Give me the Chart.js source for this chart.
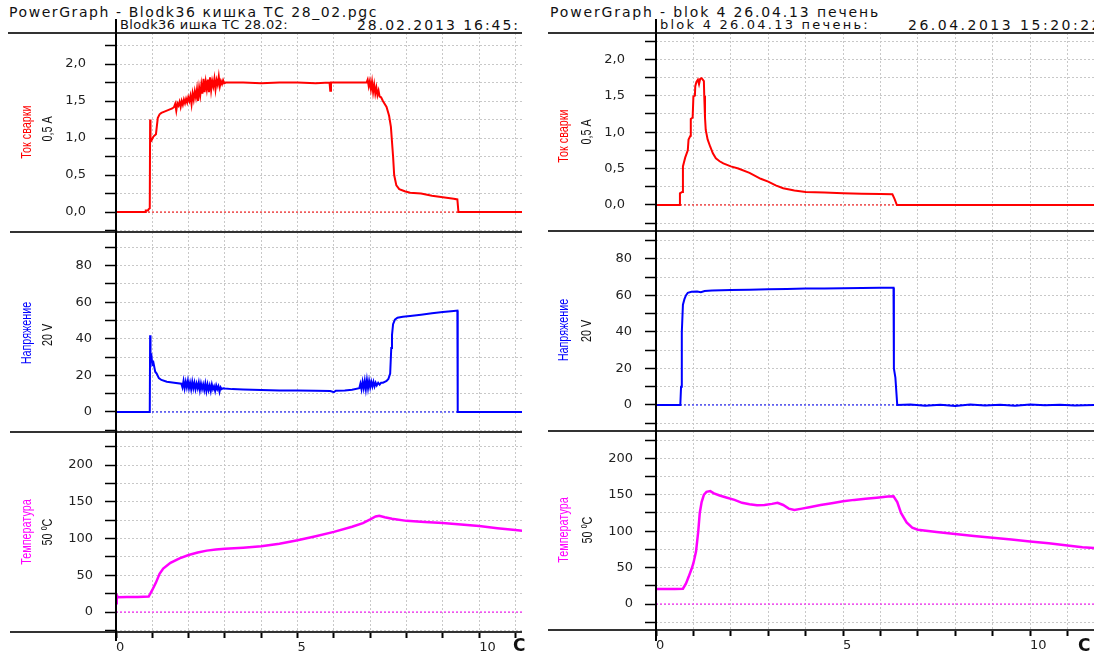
<!DOCTYPE html>
<html><head><meta charset="utf-8">
<script src="https://cdn.jsdelivr.net/npm/chart.js@4"></script>
<style>
html,body{margin:0;padding:0;background:#fff;}
#root{position:relative;width:1094px;height:652px;overflow:hidden;background:#fff;font-family:"DejaVu Sans",sans-serif;}
canvas{position:absolute;}
.t{position:absolute;white-space:nowrap;color:#111;font-size:13px;line-height:14px;z-index:3;}
.hl{position:absolute;height:2px;background:#333;z-index:4;}
.vl{position:absolute;width:2px;background:#000;z-index:4;}
.yl{position:absolute;white-space:nowrap;font-family:"Liberation Sans",sans-serif;font-size:15px;line-height:15px;z-index:3;}
.unit{position:absolute;font-weight:bold;font-size:17px;line-height:17px;color:#111;z-index:3;}
</style></head><body><div id="root"></div>
<script>
// ---------- data ----------
const leftCurrentT = [0,0.80,0.82,0.88,0.90,0.93,0.94,0.95,0.98,1.03,1.10,1.15,1.20,1.25,1.35,1.45,1.55,
  1.60,1.63,1.66,1.69,1.72,1.75,1.78,1.81,1.84,1.87,1.90,1.93,1.96,1.99,2.02,2.05,2.08,2.11,2.14,2.17,2.20,2.23,2.26,2.29,2.32,2.35,2.38,2.41,2.44,2.47,2.50,2.53,2.56,2.59,2.62,2.65,2.68,2.71,2.74,2.77,2.80,2.83,2.86,2.89,2.92,2.95,2.98,3.02,
  3.50,4.00,4.50,5.00,5.50,5.88,5.90,5.92,6.50,
  6.90,6.93,6.96,6.99,7.02,7.05,7.08,7.11,7.14,7.17,7.20,7.23,7.26,7.30,7.35,7.45,7.52,7.57,7.60,7.63,7.66,7.72,7.80,7.95,8.10,8.40,8.70,9.00,9.30,9.40,9.43,11.2];
const leftCurrentA = [0,0,0.02,0.02,0.04,0.05,1.25,1.00,0.97,1.02,1.05,1.27,1.32,1.34,1.36,1.38,1.40,
  1.42,1.46,1.37,1.47,1.44,1.49,1.42,1.50,1.45,1.52,1.47,1.53,1.48,1.55,1.50,1.57,1.46,1.60,1.52,1.63,1.55,1.66,1.50,1.68,1.58,1.72,1.60,1.80,1.62,1.76,1.66,1.79,1.62,1.82,1.65,1.77,1.70,1.80,1.66,1.78,1.72,1.83,1.70,1.77,1.73,1.78,1.74,1.75,
  1.75,1.74,1.75,1.75,1.74,1.75,1.64,1.75,1.75,
  1.75,1.79,1.70,1.77,1.66,1.76,1.62,1.72,1.60,1.68,1.58,1.64,1.56,1.55,1.50,1.42,1.30,1.15,0.95,0.75,0.50,0.36,0.31,0.28,0.26,0.25,0.22,0.20,0.18,0.17,0,0];

const leftVoltageT = [0,0.93,0.94,0.95,0.97,1.00,1.03,1.08,1.12,1.18,1.25,1.40,1.60,
  1.80,1.83,1.86,1.89,1.92,1.95,1.98,2.01,2.04,2.07,2.10,2.13,2.16,2.19,2.22,2.25,2.28,2.31,2.34,2.37,2.40,2.43,2.46,2.49,2.52,2.55,2.58,2.61,2.64,2.67,2.70,2.73,2.76,2.79,2.82,2.85,2.88,2.91,2.95,3.00,
  3.20,3.50,4.00,4.50,5.00,5.50,5.90,6.00,6.05,6.30,6.50,
  6.70,6.73,6.76,6.79,6.82,6.85,6.88,6.91,6.94,6.97,7.00,7.03,7.06,7.09,7.12,7.15,7.18,7.22,7.26,7.30,7.35,7.40,7.45,7.50,7.55,7.58,7.60,7.63,7.68,7.75,7.90,8.10,8.40,8.70,9.00,9.30,9.40,9.41,11.2];
const leftVoltageV = [0,0,42,27,32,26,27,22,21,18.5,17.5,16.5,16,
  15.5,13.5,17,13,16.5,13.5,17,13,16,12.5,16.5,13,16,12.5,15.5,13,16,12,15.5,12.5,15,12,15.5,11.5,15,12,14.5,11.5,15,12.5,14,11.5,14.5,12.5,14,11,13.5,12.5,13,12.8,
  12.5,12.3,12,11.8,11.7,11.6,11.5,10.8,11.6,11.8,12.2,
  13,15.5,12.5,16.5,13,17,12.5,17.5,13,17,13.5,16.5,14,16.5,14,16,14.5,16,15,16,16,16.5,17,18,21,35,42,48,50.5,51.5,52,52.5,53.2,54,54.6,55.2,55.4,0,0];

const leftTempT = [0,0.02,0.05,0.30,0.60,0.90,1.00,1.10,1.20,1.30,1.50,1.75,2.00,2.25,2.50,2.75,3.00,3.50,4.00,4.50,5.00,5.50,6.00,6.50,6.80,7.00,7.15,7.25,7.40,7.60,8.00,8.50,9.00,9.50,10.0,10.5,11.0,11.2];
const leftTempC = [12,23,20,20.5,20.5,21,30,40,52,59,67,73,77.5,81,83.5,85,86,87.5,89.5,93,97.5,103,109,116,121,126,130,131,129,127,124,122.5,121,119,117,114,111.5,110.5];

const rightCurrentT = [0,0.63,0.64,0.70,0.72,0.78,0.85,0.87,0.92,0.93,0.98,1.00,1.04,1.05,1.08,1.12,1.15,1.18,1.22,1.25,1.28,1.29,1.31,1.33,1.38,1.45,1.52,1.60,1.70,1.80,2.00,2.20,2.50,2.80,3.00,3.20,3.40,3.70,4.00,4.50,5.00,5.50,6.00,6.32,6.38,6.44,11.71];
const rightCurrentA = [0,0,0.16,0.18,0.53,0.65,0.75,0.90,0.95,1.18,1.20,1.49,1.50,1.63,1.69,1.72,1.66,1.73,1.74,1.72,1.70,1.50,1.20,1.03,0.90,0.80,0.71,0.64,0.60,0.57,0.53,0.50,0.44,0.36,0.32,0.27,0.23,0.20,0.18,0.17,0.16,0.155,0.15,0.146,0.08,0,0];

const rightVoltageT = [0,0.65,0.67,0.69,0.72,0.76,0.80,0.85,0.95,1.10,1.20,1.30,1.50,2.00,2.50,3.00,3.50,4.00,4.50,5.00,5.50,6.00,6.35,6.36,6.40,6.45,6.80,7.20,7.60,8.00,8.40,8.80,9.20,9.60,10.0,10.4,10.8,11.2,11.71];
const rightVoltageV = [0,0,10,40,55,58,60,61.5,62,62.2,61.8,62.5,62.7,63,63.2,63.4,63.6,63.8,63.9,64,64.1,64.2,64.2,20,15,0,0.3,-0.4,0.2,-0.5,0.3,-0.3,0.2,-0.4,0.3,-0.2,0.2,-0.3,0];

const rightTempT = [0,0.50,0.72,0.80,0.87,0.95,1.00,1.07,1.13,1.17,1.22,1.28,1.35,1.45,1.55,1.70,1.90,2.10,2.30,2.50,2.70,2.90,3.10,3.25,3.40,3.55,3.70,3.90,4.10,4.40,4.70,5.00,5.30,5.60,5.90,6.20,6.35,6.45,6.55,6.70,6.85,7.00,7.50,8.00,8.50,9.00,9.50,10.0,10.5,11.0,11.4,11.71];
const rightTempC = [20.5,20.5,21,28,37,48,56,72,100,125,140,150,154,155,152,149,146,143,139,137,135.5,136,137.5,139,136,131,129,131,133,136,138.5,141,143,144.5,146,147.5,148,140,125,112,105,102,99,96,93.5,91,88.5,86,83.5,80.5,78,77];

// ---------- tick values and labels ----------
const timeTicks = [0,1,2,3,4,5,6,7,8,9,10,11];
const timeLabels = ['0','','','','','5','','','','','10',''];
const currentTicks = [-0.25,0,0.25,0.5,0.75,1,1.25,1.5,1.75,2,2.25];
const currentLabels = ['','0,0','','0,5','','1,0','','1,5','','2,0',''];
const voltageTicks = [-10,0,10,20,30,40,50,60,70,80,90];
const voltageLabels = ['','0','','20','','40','','60','','80',''];
const tempTicks = [-25,0,25,50,75,100,125,150,175,200,225];
const tempLabels = ['','0','','50','','100','','150','','200',''];

// ---------- layout ----------
const root = document.getElementById('root');
function lookup(vals, labs, v){ for(let i=0;i<vals.length;i++){ if(Math.abs(vals[i]-v)<1e-9) return labs[i]; } return ''; }

function makePlot(p){
  const cv = document.createElement('canvas');
  const h = p.h + (p.axisH||0);
  cv.width = p.w; cv.height = h;
  cv.style.left = p.left+'px'; cv.style.top = p.top+'px';
  cv.style.width = p.w+'px'; cv.style.height = h+'px';
  root.appendChild(cv);
  const bottom = !!p.axisH;
  new Chart(cv.getContext('2d'), {
    type:'line',
    data:{datasets:[
      {data:p.xs.map((x,i)=>({x:x,y:p.ys[i]})), borderColor:p.color, borderWidth:p.lw, pointRadius:0, tension:0, fill:false},
      {data:[{x:0,y:0},{x:p.xMax,y:0}], borderColor:p.color, borderWidth:1, borderDash:[2,2], pointRadius:0, fill:false}
    ]},
    options:{
      responsive:false, animation:false, devicePixelRatio:1, events:[],
      layout:{padding:0},
      plugins:{legend:{display:false}, tooltip:{enabled:false}},
      scales:{
        x:{type:'linear', min:0, max:p.xMax, bounds:'data', position:'bottom',
          afterBuildTicks:s=>{ s.ticks = timeTicks.filter(v=>v<=p.xMax).map(v=>({value:v})); },
          afterFit:s=>{ s.paddingLeft=0; s.paddingRight=0; s.height = bottom ? p.axisH : 0; },
          grid:{display:true, drawOnChartArea:true, drawTicks:bottom, tickLength:6, color:'#c8c8c8', lineWidth:1, tickColor:'#000', tickWidth:2, tickBorderDash:[]},
          border:{display:false, dash:[2,2]},
          ticks:{display:bottom, autoSkip:false, maxRotation:0, minRotation:0, align:'start', padding:2,
            font:{family:'DejaVu Sans', size:13}, color:'#222', callback:v=>lookup(timeTicks,timeLabels,v)}
        },
        y:{type:'linear', min:p.yMin, max:p.yMax, bounds:'data', position:'left',
          afterBuildTicks:s=>{ s.ticks = p.tv.filter(v=>v>=p.yMin && v<=p.yMax).map(v=>({value:v})); },
          afterFit:s=>{ s.width=116; s.paddingTop=0; s.paddingBottom=0; },
          grid:{display:true, drawOnChartArea:true, drawTicks:true, tickLength:11, color:'#c8c8c8', lineWidth:1, tickColor:'#000', tickWidth:1.5, tickBorderDash:[]},
          border:{display:false, dash:[2,2]},
          ticks:{autoSkip:false, padding:p.pad, font:{family:'DejaVu Sans', size:13}, color:'#222',
            callback:v=>lookup(p.tv,p.tl,v)}
        }
      }
    }
  });
}

const plots = [
  {left:0, top:33, w:522, h:199, xMax:11.18, yMin:-0.27, yMax:2.419, tv:currentTicks, tl:currentLabels, color:'#ff0000', xs:leftCurrentT, ys:leftCurrentA, pad:19, lw:2},
  {left:0, top:232, w:522, h:200, xMax:11.18, yMin:-10.93, yMax:98.36, tv:voltageTicks, tl:voltageLabels, color:'#0000ff', xs:leftVoltageT, ys:leftVoltageV, pad:13, lw:2},
  {left:0, top:432, w:522, h:200, axisH:20, xMax:11.18, yMin:-27.2, yMax:244.9, tv:tempTicks, tl:tempLabels, color:'#ff00ff', xs:leftTempT, ys:leftTempC, pad:12, lw:2.5},
  {left:540, top:33, w:554, h:198, xMax:11.71, yMin:-0.357, yMax:2.361, tv:currentTicks, tl:currentLabels, color:'#ff0000', xs:rightCurrentT, ys:rightCurrentA, pad:20, lw:2},
  {left:540, top:231, w:554, h:200, xMax:11.71, yMin:-14.25, yMax:95.34, tv:voltageTicks, tl:voltageLabels, color:'#0000ff', xs:rightVoltageT, ys:rightVoltageV, pad:13, lw:2},
  {left:540, top:431, w:554, h:199, axisH:22, xMax:11.71, yMin:-35.7, yMax:237.6, tv:tempTicks, tl:tempLabels, color:'#ff00ff', xs:rightTempT, ys:rightTempC, pad:12, lw:2.5}
];
plots.forEach(makePlot);

function el(cls, css, text){ const d=document.createElement('div'); d.className=cls; Object.assign(d.style, css); if(text!==undefined) d.textContent=text; root.appendChild(d); return d; }
// frame lines
[[8,32,514],[10,231,512],[10,431,512],[10,631,512],[548,32,546],[548,230,546],[548,430,546],[548,629,546]].forEach(a=>el('hl',{left:a[0]+'px',top:a[1]+'px',width:a[2]+'px'}));
el('vl',{left:'115px',top:'19px',height:'622px'});
el('vl',{left:'655px',top:'19px',height:'622px'});
// header texts, spaced to the widths seen in the reference
function head(x,y,size,text,target){
  const d = el('t',{left:x+'px',top:y+'px',fontSize:size+'px',letterSpacing:'0px'},text);
  const w = d.getBoundingClientRect().width;
  d.style.letterSpacing = ((target - w)/text.length).toFixed(2)+'px';
}
head(9,5,14,'PowerGraph - Blodk36 кишка ТС 28_02.pgc',369);
head(120,18,13,'Blodk36 ишка ТС 28.02:',168);
head(357,18,14,'28.02.2013 16:45:',163);
head(550,5,14,'PowerGraph - blok 4 26.04.13 печень',330);
head(660,18,13,'blok 4 26.04.13 печень:',210);
head(908,18,14,'26.04.2013 15:20:22',195);
// axis titles (rotated)
function ytitle(x,y,text,color){ const d=el('yl',{left:x+'px',top:y+'px',color:color}, text); d.style.transform='translate(-50%,-50%) rotate(-90deg) scaleX(0.72)'; }
ytitle(25,132,'Ток сварки','#ff0000'); ytitle(46,129,'0,5 А','#111');
ytitle(25,333,'Напряжение','#0000ff'); ytitle(46,335,'20 V','#111');
ytitle(25,532,'Температура','#ff00ff'); ytitle(46,532,'50 ºC','#111');
ytitle(562,136,'Ток сварки','#ff0000'); ytitle(585,132,'0,5 А','#111');
ytitle(562,330,'Напряжение','#0000ff'); ytitle(585,331,'20 V','#111');
ytitle(562,530,'Температура','#ff00ff'); ytitle(586,530,'50 ºC','#111');
// time unit
el('unit',{left:'513px',top:'637px'},'С');
el('unit',{left:'1078px',top:'637px'},'С');
</script>
</body></html>
